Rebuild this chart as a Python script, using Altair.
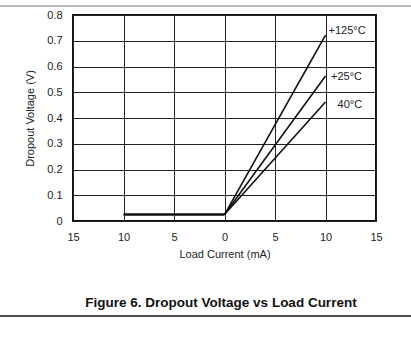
import altair as alt
import pandas as pd

# Data
series = ["+125°C", "+25°C", "40°C"]
flat_current = [-10, 0]
flat_voltage = [0.025, 0.025]
slope_current = [0, 10]
end_voltage = [0.722, 0.563, 0.462]
label_x = [10.3, 10.55, 11.2]
label_y = [0.739, 0.560, 0.452]
x_ticks = [-15, -10, -5, 0, 5, 10, 15]
y_ticks = [0, 0.1, 0.2, 0.3, 0.4, 0.5, 0.6, 0.7, 0.8]

rows = []
for s, ev in zip(series, end_voltage):
    rows.append({"series": s, "current": slope_current[0], "voltage": flat_voltage[1]})
    rows.append({"series": s, "current": slope_current[1], "voltage": ev})
slopes = pd.DataFrame(rows)
flat = pd.DataFrame({"current": flat_current, "voltage": flat_voltage})
labels = pd.DataFrame({"series": series, "x": label_x, "y": label_y})

FONT = "Liberation Sans"
W, H = 303, 206

xscale = alt.Scale(domain=[-15, 15], nice=False, zero=False)
yscale = alt.Scale(domain=[0, 0.8], nice=False)

xaxis = alt.Axis(values=x_ticks, tickCount=20, labelExpr="abs(datum.value)", title="Load Current (mA)",
                 grid=True, gridColor="#222", gridWidth=1, gridOpacity=1, ticks=False, domain=False,
                 labelOverlap=False, labelFlush=False, labelBound=False,
                 labelFont=FONT, labelFontSize=11, labelColor="#222", labelPadding=10,
                 titleFont=FONT, titleFontSize=11, titleFontWeight="normal", titleColor="#222", titlePadding=6)
yaxis = alt.Axis(values=y_ticks, tickCount=20, format=".1~f", title="Dropout Voltage (V)",
                 grid=True, gridColor="#222", gridWidth=1, gridOpacity=1, ticks=False, domain=False,
                 labelOverlap=False, labelFlush=False, labelBound=False,
                 labelFont=FONT, labelFontSize=11, labelColor="#222", labelPadding=11,
                 titleFont=FONT, titleFontSize=11, titleFontWeight="normal", titleColor="#222", titlePadding=11)

base_grid = alt.Chart(flat).mark_point(opacity=0).encode(
    x=alt.X("current:Q", scale=xscale, axis=xaxis),
    y=alt.Y("voltage:Q", scale=yscale, axis=yaxis),
)

flat_line = alt.Chart(flat).mark_line(color="#111", strokeWidth=2.5).encode(
    x=alt.X("current:Q", scale=xscale),
    y=alt.Y("voltage:Q", scale=yscale),
)

slope_lines = alt.Chart(slopes).mark_line(color="#111", strokeWidth=1.6).encode(
    x=alt.X("current:Q", scale=xscale),
    y=alt.Y("voltage:Q", scale=yscale),
    detail="series:N",
)

label_text = alt.Chart(labels).mark_text(align="left", baseline="middle", font=FONT, fontSize=11, color="#222").encode(
    x=alt.X("x:Q", scale=xscale),
    y=alt.Y("y:Q", scale=yscale),
    text="series:N",
)

title_df = pd.DataFrame({"t": ["Figure 6. Dropout Voltage vs Load Current"]})
title_text = alt.Chart(title_df).mark_text(align="center", baseline="middle", font=FONT, fontSize=13.5,
                                           fontWeight="bold", color="#111").encode(
    x=alt.value(148), y=alt.value(288), text="t:N")

top_rule = alt.Chart(title_df).mark_rule(color="#777", strokeWidth=1).encode(
    x=alt.value(-73), x2=alt.value(338), y=alt.value(-9))
bottom_rule = alt.Chart(title_df).mark_rule(color="#111", strokeWidth=1.5).encode(
    x=alt.value(-73), x2=alt.value(338), y=alt.value(301))

chart = alt.layer(base_grid, flat_line, slope_lines, label_text, title_text, top_rule, bottom_rule).properties(
    width=W, height=H,
    autosize=alt.AutoSizeParams(type="none"),
    padding={"left": 73, "top": 15, "right": 35, "bottom": 117},
    background="white",
).configure_view(stroke="#111", strokeWidth=2)

chart.save("out.html", embed_options={"renderer": "svg", "actions": False})
